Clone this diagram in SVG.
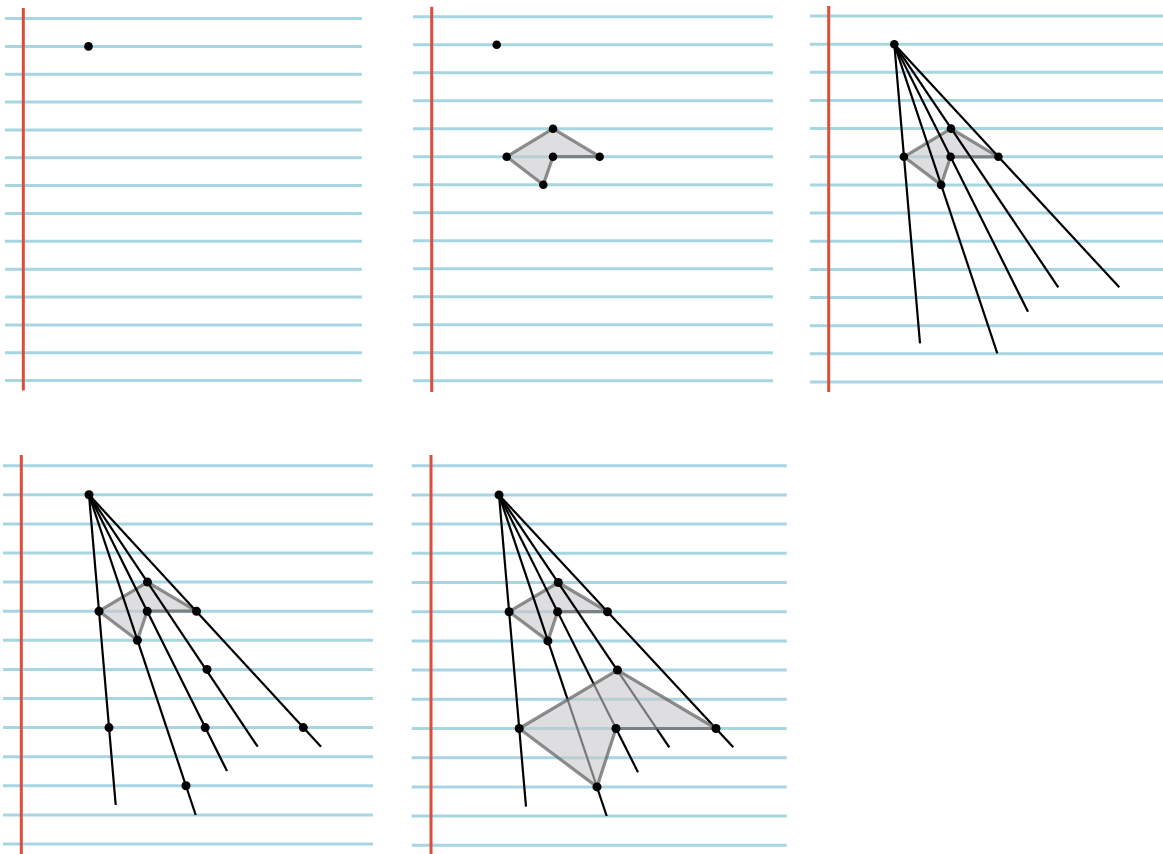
<svg xmlns="http://www.w3.org/2000/svg" width="1163" height="854" viewBox="0 0 1163 854">
<style>
.ruled{stroke:#a8d5e2;stroke-width:3;fill:none}
.margin{stroke:#dc4d3b;stroke-width:3}
.ray{stroke:#000;stroke-width:2.2;fill:none}
.poly{fill:#c8c8cc;fill-opacity:0.6;stroke:#5f5f5f;stroke-opacity:0.7;stroke-width:3.2;stroke-linejoin:round}
.dot{fill:#000}
</style>
<rect width="1163" height="854" fill="#fff"/>

<g id="panel1">
<path class="ruled" d="M5 18.5H362M5 46.4H362M5 74.2H362M5 102.1H362M5 129.9H362M5 157.8H362M5 185.6H362M5 213.5H362M5 241.3H362M5 269.2H362M5 297H362M5 324.9H362M5 352.7H362M5 380.6H362"/>
<line class="margin" x1="23.3" y1="8" x2="23.3" y2="390.5"/>
<g id="p1-eye"><circle class="dot" cx="88.5" cy="46.4" r="4.3"/></g>
</g>

<g id="panel2">
<path class="ruled" d="M413 16.7H773M413 44.7H773M413 72.7H773M413 100.7H773M413 128.7H773M413 156.7H773M413 184.7H773M413 212.7H773M413 240.7H773M413 268.7H773M413 296.7H773M413 324.7H773M413 352.7H773M413 380.7H773"/>
<line class="margin" x1="431.7" y1="6.7" x2="431.7" y2="392"/>
<g id="p2-shape"><polygon class="poly" points="506.7,156.7 553,128.7 599.7,156.7 553,156.7 543.3,184.7"/></g>
<g id="p2-points">
<circle class="dot" cx="496.7" cy="44.7" r="4.3"/>
<circle class="dot" cx="506.7" cy="156.7" r="4.3"/>
<circle class="dot" cx="553" cy="128.7" r="4.3"/>
<circle class="dot" cx="599.7" cy="156.7" r="4.3"/>
<circle class="dot" cx="553" cy="156.7" r="4.3"/>
<circle class="dot" cx="543.3" cy="184.7" r="4.3"/>
</g>
</g>

<g id="panel3">
<path class="ruled" d="M810 16H1163M810 44.2H1163M810 72.3H1163M810 100.5H1163M810 128.6H1163M810 156.8H1163M810 184.9H1163M810 213.1H1163M810 241.2H1163M810 269.4H1163M810 297.5H1163M810 325.7H1163M810 353.8H1163M810 382H1163"/>
<line class="margin" x1="828.7" y1="6" x2="828.7" y2="392"/>
<g id="p3-shape"><polygon class="poly" points="903.9,156.8 951,128.6 998.4,156.8 950.6,156.8 941.1,184.9"/></g>
<g id="p3-rays">
<line class="ray" x1="894.3" y1="44.2" x2="920" y2="343.3"/>
<line class="ray" x1="894.3" y1="44.2" x2="997.3" y2="353.3"/>
<line class="ray" x1="894.3" y1="44.2" x2="1028" y2="311.7"/>
<line class="ray" x1="894.3" y1="44.2" x2="1058.3" y2="287.3"/>
<line class="ray" x1="894.3" y1="44.2" x2="1119.3" y2="287.3"/>
</g>
<g id="p3-points">
<circle class="dot" cx="894.3" cy="44.2" r="4.3"/>
<circle class="dot" cx="903.9" cy="156.8" r="4.3"/>
<circle class="dot" cx="951" cy="128.6" r="4.3"/>
<circle class="dot" cx="998.4" cy="156.8" r="4.3"/>
<circle class="dot" cx="950.6" cy="156.8" r="4.3"/>
<circle class="dot" cx="941.1" cy="184.9" r="4.3"/>
</g>
</g>

<g id="panel4">
<path class="ruled" d="M3 465.7H373M3 494.8H373M3 523.9H373M3 553H373M3 582.1H373M3 611.2H373M3 640.3H373M3 669.4H373M3 698.5H373M3 727.6H373M3 756.7H373M3 785.8H373M3 814.9H373M3 844H373"/>
<line class="margin" x1="21.3" y1="455" x2="21.3" y2="854"/>
<g id="p4-shape"><polygon class="poly" points="99,611.2 147.5,582.1 196.5,611.2 147.2,611.2 137.4,640.3"/></g>
<g id="p4-rays">
<line class="ray" x1="89" y1="494.8" x2="115.7" y2="805"/>
<line class="ray" x1="89" y1="494.8" x2="195.7" y2="815"/>
<line class="ray" x1="89" y1="494.8" x2="227" y2="771"/>
<line class="ray" x1="89" y1="494.8" x2="257.7" y2="746.7"/>
<line class="ray" x1="89" y1="494.8" x2="321" y2="746.7"/>
</g>
<g id="p4-points">
<circle class="dot" cx="89" cy="494.8" r="4.5"/>
<circle class="dot" cx="99" cy="611.2" r="4.5"/>
<circle class="dot" cx="147.5" cy="582.1" r="4.5"/>
<circle class="dot" cx="196.5" cy="611.2" r="4.5"/>
<circle class="dot" cx="147.2" cy="611.2" r="4.5"/>
<circle class="dot" cx="137.4" cy="640.3" r="4.5"/>
<circle class="dot" cx="207" cy="669.4" r="4.5"/>
<circle class="dot" cx="109" cy="727.6" r="4.5"/>
<circle class="dot" cx="205.2" cy="727.6" r="4.5"/>
<circle class="dot" cx="303.3" cy="727.6" r="4.5"/>
<circle class="dot" cx="186" cy="785.8" r="4.5"/>
</g>
</g>

<g id="panel5">
<path class="ruled" d="M411.7 465.7H786.7M411.7 494.9H786.7M411.7 524.1H786.7M411.7 553.3H786.7M411.7 582.5H786.7M411.7 611.7H786.7M411.7 640.9H786.7M411.7 670.1H786.7M411.7 699.3H786.7M411.7 728.5H786.7M411.7 757.7H786.7M411.7 786.9H786.7M411.7 816.1H786.7M411.7 845.3H786.7"/>
<line class="margin" x1="431" y1="455" x2="431" y2="854"/>
<g id="p5-shape"><polygon class="poly" points="509.1,611.7 558.3,582.5 607.5,611.7 557.6,611.7 547.9,640.9"/></g>
<g id="p5-rays">
<line class="ray" x1="499" y1="494.9" x2="526" y2="806.7"/>
<line class="ray" x1="499" y1="494.9" x2="606.7" y2="816"/>
<line class="ray" x1="499" y1="494.9" x2="638" y2="772.3"/>
<line class="ray" x1="499" y1="494.9" x2="669.3" y2="747.3"/>
<line class="ray" x1="499" y1="494.9" x2="733.3" y2="747.3"/>
</g>
<g id="p5-image"><polygon class="poly" points="519.2,728.5 617.5,670.1 716,728.5 616,728.5 597,786.9"/></g>
<g id="p5-points">
<circle class="dot" cx="499" cy="494.9" r="4.5"/>
<circle class="dot" cx="509.1" cy="611.7" r="4.5"/>
<circle class="dot" cx="558.3" cy="582.5" r="4.5"/>
<circle class="dot" cx="607.5" cy="611.7" r="4.5"/>
<circle class="dot" cx="557.6" cy="611.7" r="4.5"/>
<circle class="dot" cx="547.9" cy="640.9" r="4.5"/>
<circle class="dot" cx="519.2" cy="728.5" r="4.5"/>
<circle class="dot" cx="617.5" cy="670.1" r="4.5"/>
<circle class="dot" cx="716" cy="728.5" r="4.5"/>
<circle class="dot" cx="616" cy="728.5" r="4.5"/>
<circle class="dot" cx="597" cy="786.9" r="4.5"/>
</g>
</g>
</svg>
